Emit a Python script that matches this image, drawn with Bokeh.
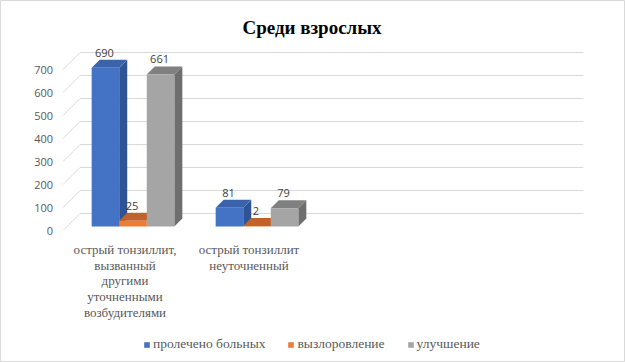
from bokeh.plotting import figure
from bokeh.models import Range1d, ColumnDataSource, Label, Legend, LegendItem
from bokeh.core.properties import value
from bokeh.embed import file_html
from bokeh.resources import INLINE

# ---------------- data ----------------
title_text = "Среди взрослых"
categories = ["острый тонзиллит,\nвызванный\nдругими\nуточненными\nвозбудителями",
              "острый тонзиллит\nнеуточненный"]
series_names = ["пролечено больных", "вызлоровление", "улучшение"]
treated = [690, 81]
recovered = [25, 2]
improved = [661, 79]
y_ticks = [0, 100, 200, 300, 400, 500, 600, 700]

series_values = [treated, recovered, improved]
front_colors = ["#4472C4", "#ED7D31", "#A5A5A5"]
top_colors = ["#3A63AD", "#C0622A", "#808080"]
side_colors = ["#2F5496", "#AE5520", "#6E6E6E"]

SERIF = "'Liberation Serif', 'Times New Roman', 'DejaVu Serif', serif"
SANS = "'Open Sans', sans-serif"

# ---------------- layout (pseudo-3D projection) ----------------
W, H = 625, 362
PX_PER_CAT = 124.0      # px per category on the front floor plane
PX_PER_UNIT = 0.23      # px per value unit
X0_PAGE = 66.5          # x of category position 0 (front plane)
Y0_PAGE = 230.0         # y of value 0 (front plane)
N_CATS_AXIS = 4         # slots on the category axis (2 used)

def du(d):
    return d / PX_PER_CAT

def dv(d):
    return d / PX_PER_UNIT

x_start = (0 - X0_PAGE) / PX_PER_CAT
x_end = (W - X0_PAGE) / PX_PER_CAT
y_start = (Y0_PAGE - H) / PX_PER_UNIT
y_end = (Y0_PAGE - 0) / PX_PER_UNIT

p = figure(width=W, height=H, x_range=Range1d(x_start, x_end), y_range=Range1d(y_start, y_end),
           min_border=0, toolbar_location=None, output_backend="svg",
           x_axis_location=None, y_axis_location=None)
p.grid.visible = False
p.outline_line_color = "#D9D9D9"
p.background_fill_color = "white"
p.border_fill_color = "white"

WALL_DEPTH = 17
BAR_FRONT = 4
BAR_DEPTH = 8
grid_left = -0.032
grid_right = N_CATS_AXIS + 0.028

# gridlines: diagonal on the side wall + horizontal on the back wall
gx, gy = [], []
for t in y_ticks:
    gx.append([grid_left, grid_left + du(WALL_DEPTH), grid_right + du(WALL_DEPTH)])
    gy.append([t, t + dv(WALL_DEPTH), t + dv(WALL_DEPTH)])
p.multi_line(xs=gx, ys=gy, line_color="#D9D9D9", line_width=1)

# y tick labels
p.text(x=[grid_left] * len(y_ticks), y=y_ticks, text=[str(t) for t in y_ticks],
       x_offset=-10, text_align="right", text_baseline="middle",
       text_font=value(SANS), text_font_size="11px", text_color="#595959")

# bars
n_series = len(series_values)
slot = 1.0 / (n_series + 1.5)   # gap width 150%
front_renderers = []
for j, vals in enumerate(series_values):
    lefts = [i + 0.75 * slot + j * slot + du(BAR_FRONT) for i in range(len(vals))]
    rights = [l + slot for l in lefts]
    bottoms = [dv(BAR_FRONT)] * len(vals)
    tops = [v + dv(BAR_FRONT) for v in vals]
    sx = [[r, r, r + du(BAR_DEPTH), r + du(BAR_DEPTH)] for r in rights]
    sy = [[b, t, t + dv(BAR_DEPTH), b + dv(BAR_DEPTH)] for b, t in zip(bottoms, tops)]
    p.patches(xs=sx, ys=sy, fill_color=side_colors[j], line_color=None)
    tx = [[l, r, r + du(BAR_DEPTH), l + du(BAR_DEPTH)] for l, r in zip(lefts, rights)]
    ty = [[t, t, t + dv(BAR_DEPTH), t + dv(BAR_DEPTH)] for t in tops]
    p.patches(xs=tx, ys=ty, fill_color=top_colors[j], line_color=None)
    src = ColumnDataSource(dict(left=lefts, right=rights, bottom=bottoms, top=tops))
    r = p.quad(left="left", right="right", bottom="bottom", top="top", source=src,
               fill_color=front_colors[j], line_color=None)
    front_renderers.append(r)
    p.text(x=[(l + rr) / 2 for l, rr in zip(lefts, rights)],
           y=[t + dv(BAR_DEPTH) for t in tops],
           text=[str(v) for v in vals], x_offset=-1, y_offset=-7,
           text_align="center", text_baseline="middle",
           text_font=value(SANS), text_font_size="11px", text_color="#404040")

# category labels: one Label per line (serif)
for i, cat in enumerate(categories):
    for k, line in enumerate(cat.split("\n")):
        p.add_layout(Label(x=i + 0.5, y=0, text=line, x_offset=-4, y_offset=-(19 + 15.7 * k),
                           text_align="center", text_baseline="middle",
                           text_font=SERIF, text_font_size="13px", text_color="#595959"))

# title
p.add_layout(Label(x=311.5, y=H - 27, x_units="screen", y_units="screen", text=title_text,
                   text_align="center", text_baseline="alphabetic",
                   text_font=SERIF, text_font_style="bold",
                   text_font_size="19px", text_color="#000000"))

# legend
legend = Legend(items=[LegendItem(label=n, renderers=[r]) for n, r in zip(series_names, front_renderers)],
                orientation="horizontal", location=(143, 10),
                glyph_width=7, glyph_height=7, label_standoff=3, spacing=22,
                padding=0, margin=0, border_line_color=None, background_fill_alpha=0,
                label_text_font=SERIF, label_text_font_size="13.5px",
                label_text_color="#595959")
p.add_layout(legend, "center")

open("out.html", "w").write(file_html(p, INLINE))
